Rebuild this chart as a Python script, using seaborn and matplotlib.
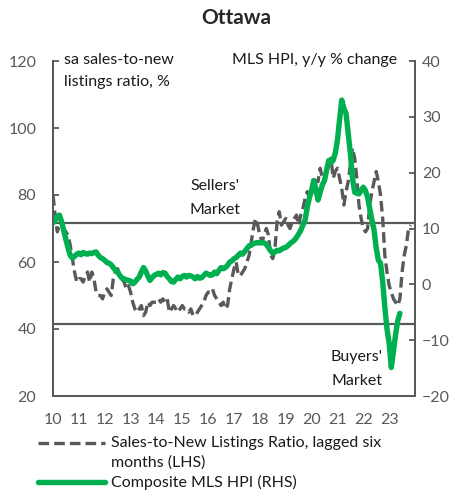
import numpy as np
import pandas as pd
import matplotlib
matplotlib.use("Agg")
import matplotlib.pyplot as plt
import seaborn as sns
from matplotlib.lines import Line2D

sns.set_style("white")
plt.rcParams['font.family'] = ['Lato', 'DejaVu Sans']

# --- data (monthly) ---
# sales-to-new listings ratio, lagged six months (LHS), Jan 2010 - Nov 2023
snlr = [
    80, 74, 69, 71, 71, 70, 69, 68, 65, 61, 57, 54,   # 2010
    55, 55, 54, 56, 57, 54, 57, 55, 51, 50, 50, 49,   # 2011
    51, 52, 51, 50, 55, 57, 58, 56, 55, 54, 52, 53,   # 2012
    51, 48, 46, 45, 46, 47, 44, 45, 48, 47, 48, 48,   # 2013
    48, 49, 48, 49, 48, 49, 45, 46, 47, 46, 45, 46,   # 2014
    47, 46, 46, 45, 46, 44, 44, 45, 46, 47, 48, 50,   # 2015
    51, 51, 52, 50, 49, 48, 47, 48, 46, 47, 52, 55,   # 2016
    58, 60, 56, 56, 57, 58, 60, 62, 66, 70, 73, 71,   # 2017
    68, 66, 68, 70, 68, 62, 61, 64, 72, 75, 71, 72,   # 2018
    73, 71, 70, 72, 73, 74, 71, 74, 76, 79, 81, 79,   # 2019
    80, 85, 84, 84, 88, 85, 84, 87, 89, 91, 85, 87,   # 2020
    88, 85, 82, 77, 81, 84, 89, 94, 91, 85, 77, 73,   # 2021
    70, 69, 70, 77, 81, 84, 87, 84, 80, 73, 62, 57,   # 2022
    53, 51, 49, 48, 47, 49, 57, 62, 65, 70, 71,       # 2023
]
# composite MLS HPI, y/y % change (RHS), Jan 2010 - Jun 2023
hpi = [
    11.0, 11.5, 12.2, 12.4, 11.2, 9.6, 8.0, 6.5, 5.2, 4.7, 5.0, 5.4,   # 2010
    5.6, 5.3, 5.7, 5.5, 5.4, 5.6, 5.5, 5.7, 5.8, 5.2, 4.8, 4.6,        # 2011
    4.3, 3.9, 3.8, 3.5, 3.0, 2.5, 2.2, 1.6, 1.1, 1.0, 0.8, 0.7,        # 2012
    0.6, 0.1, 0.4, 0.9, 1.3, 2.2, 3.0, 2.4, 1.5, 0.7, 1.2, 1.6,        # 2013
    1.8, 2.0, 1.7, 2.1, 2.0, 1.4, 1.0, 0.5, 0.4, 0.9, 1.3, 1.0,        # 2014
    1.4, 1.6, 1.3, 1.6, 1.5, 1.3, 1.0, 1.4, 1.1, 1.2, 1.6, 2.0,        # 2015
    1.8, 1.6, 1.7, 2.2, 1.9, 2.5, 3.0, 2.8, 3.0, 3.4, 4.0, 4.2,        # 2016
    4.6, 4.8, 5.2, 5.6, 5.4, 5.9, 6.4, 6.9, 7.0, 7.3, 7.4, 7.5,        # 2017
    7.4, 7.5, 7.4, 7.2, 6.6, 6.0, 5.6, 5.8, 6.1, 6.0, 6.3, 6.5,        # 2018
    6.6, 6.9, 7.3, 7.6, 7.9, 8.4, 9.0, 9.7, 10.6, 11.5, 13.8, 15.5,    # 2019
    16.8, 18.6, 17.0, 15.1, 16.5, 17.8, 18.6, 20.5, 22.2, 21.8, 22.2, 23.5,  # 2020
    25.8, 29.5, 33.0, 31.5, 30.6, 27.0, 23.5, 19.0, 16.5, 16.3, 16.2, 16.8,  # 2021
    17.4, 16.8, 15.6, 13.5, 11.5, 9.7, 6.5, 4.3, 3.8, 0.5, -4.1, -8.0,       # 2022
    -10.5, -14.9, -12.0, -9.0, -6.5, -5.2,                                  # 2023
]
years = list(range(2010, 2024))
year_labels = [str(y)[2:] for y in years]
sellers_line = 71.5
buyers_line = 41.5

df_l = pd.DataFrame({'t': 2010 + np.arange(len(snlr)) / 12, 'v': snlr})
df_r = pd.DataFrame({'t': 2010 + np.arange(len(hpi)) / 12, 'v': hpi})

gray = '#595959'
green = '#00B050'
ink = '#1a1a1a'
dash = (0, (3.2, 1.5))

fig = plt.figure(figsize=(4.5, 4.91), dpi=100)
ax = fig.add_axes([53 / 450, 1 - 396 / 491, 362 / 450, 335 / 491])
ax2 = ax.twinx()

sns.lineplot(data=df_l, x='t', y='v', ax=ax, color=gray, linewidth=2.4,
             linestyle=dash, legend=False)
ax.axhline(sellers_line, color=gray, lw=1.6)
ax.axhline(buyers_line, color=gray, lw=1.6)
sns.lineplot(data=df_r, x='t', y='v', ax=ax2, color=green, linewidth=3.9,
             legend=False)

ax.set_xlim(2010, 2024)
ax.set_ylim(20, 120)
ax2.set_ylim(-20, 40)
ax.set_xticks(years)
ax.set_xticklabels(year_labels)
ax.set_yticks(range(20, 121, 20))
ax2.set_yticks(range(-20, 41, 10))
for a in (ax, ax2):
    a.set_xlabel('')
    a.set_ylabel('')
    a.spines['top'].set_visible(False)
    for s in ('left', 'right', 'bottom'):
        a.spines[s].set_color(gray)
        a.spines[s].set_linewidth(1.3)
ax.tick_params(axis='x', direction='in', length=4, width=1.3, color=gray,
               labelcolor=gray, labelsize=11.5, pad=12)
ax.tick_params(axis='y', direction='in', length=4, width=1.3, color=gray,
               labelcolor=gray, labelsize=11.5, pad=12)
ax2.tick_params(axis='y', direction='in', length=4, width=1.3, color=gray,
                labelcolor=gray, labelsize=11.5, pad=5)

ax.text(0.03, 1.025, 'sa sales-to-new\nlistings ratio, %', transform=ax.transAxes,
        ha='left', va='top', fontsize=11.5, linespacing=1.75, color=ink)
ax.text(0.95, 1.025, 'MLS HPI, y/y % change', transform=ax.transAxes,
        ha='right', va='top', fontsize=11.5, color=ink)
ax.text(2016.27, 73.5, "Sellers'\nMarket", ha='center', va='bottom',
        fontsize=11.5, linespacing=1.85, color=ink)
ax.text(2021.75, 22.5, "Buyers'\nMarket", ha='center', va='bottom',
        fontsize=11.5, linespacing=1.85, color=ink)

fig.text(236 / 450, 1 - 18 / 491, 'Ottawa', ha='center', va='center',
         fontsize=15, fontweight='bold')

# legend below the plot, handle level with the first text line
W, H = 450, 491
fig.add_artist(Line2D([38 / W, 105 / W], [1 - 443 / H] * 2, color=gray, lw=2.4,
                      linestyle=dash, transform=fig.transFigure))
fig.add_artist(Line2D([38 / W, 105 / W], [1 - 482 / H] * 2, color=green, lw=3.9,
                      transform=fig.transFigure))
fig.text(111 / W, 1 - 443 / H, 'Sales-to-New Listings Ratio, lagged six',
         ha='left', va='center', fontsize=11.5, color=ink)
fig.text(111 / W, 1 - 463 / H, 'months (LHS)',
         ha='left', va='center', fontsize=11.5, color=ink)
fig.text(111 / W, 1 - 482 / H, 'Composite MLS HPI (RHS)',
         ha='left', va='center', fontsize=11.5, color=ink)

fig.savefig('out.png', dpi=100)
